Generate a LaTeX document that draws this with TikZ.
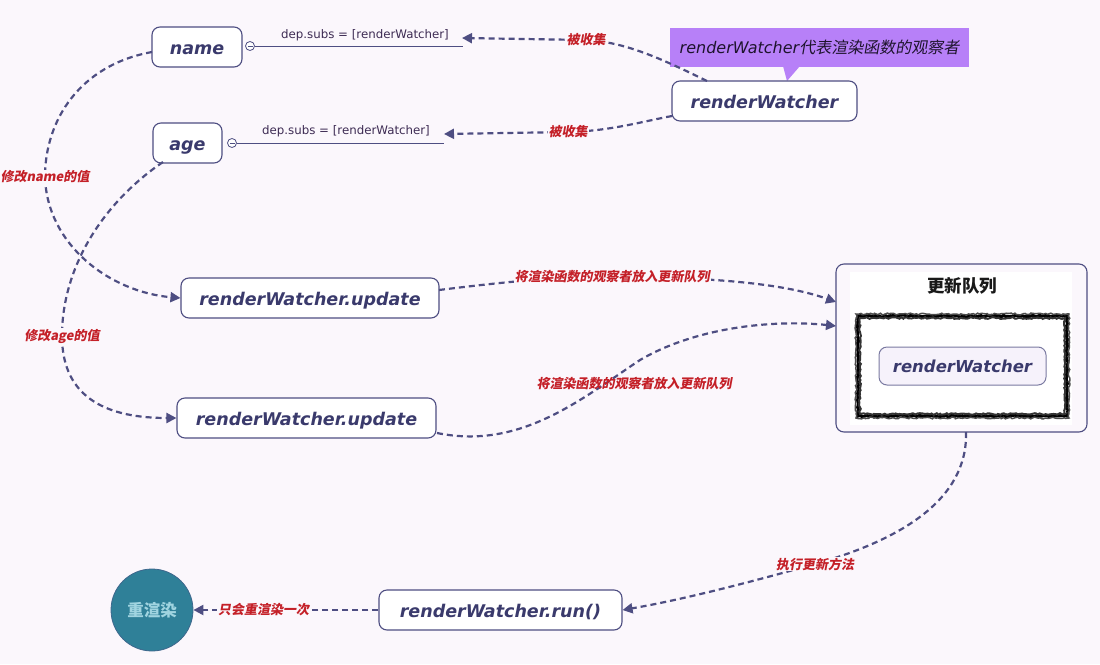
\documentclass[tikz,border=0pt]{standalone}
\usepackage{fontspec}
\setmainfont{DejaVu Sans}
\newfontfamily\cjk{Noto Sans CJK SC}
\newfontfamily\cjksl[FakeSlant=0.18]{Noto Sans CJK SC}
\usetikzlibrary{arrows.meta,decorations.pathmorphing}
\definecolor{bg}{RGB}{251,247,252}
\definecolor{ln}{RGB}{78,78,130}
\definecolor{tx}{RGB}{58,58,108}
\definecolor{deptx}{RGB}{62,44,84}
\definecolor{lbl}{RGB}{196,32,40}
\definecolor{callout}{RGB}{183,128,248}
\definecolor{circfill}{RGB}{47,128,152}
\definecolor{circtext}{RGB}{160,212,224}
\definecolor{innerfill}{RGB}{246,242,251}
\tikzset{
  box/.style={draw=ln, line width=1.1pt, rounded corners=8pt, fill=white, text=tx,
    font=\bfseries\itshape\fontsize{17.5}{21}\selectfont, minimum height=40pt, inner sep=0pt,
    text height=16pt, text depth=2pt},
  conn/.style={draw=ln, line width=2.2pt, dash pattern=on 6pt off 4pt,
    -{Triangle[length=10pt,width=10pt]}},
  lab/.style={fill=bg, text=lbl, inner sep=1pt, font=\cjksl\bfseries\fontsize{13}{15}\selectfont},
  dep/.style={text=deptx, font=\fontsize{11.8}{14}\selectfont},
  knob/.style={circle, draw=ln, fill=white, minimum size=9pt, inner sep=0pt, line width=0.8pt},
  sketch/.style={draw=black, decorate, decoration={random steps, segment length=2pt, amplitude=0.9pt}},
}
\begin{document}
\begin{tikzpicture}[x=1pt,y=-1pt]
\useasboundingbox (0,0) rectangle (1100,664);
\fill[bg] (0,0) rectangle (1100,664);

% callout
\fill[callout] (783,66) -- (800,66) -- (787,81) -- cycle;
\node[fill=callout, minimum width=299pt, minimum height=39pt, inner sep=0pt, text={rgb,255:red,30;green,20;blue,45},
  font=\fontsize{16}{20}\selectfont] (co) at (819.5,47.5) {\itshape renderWatcher\cjksl 代表渲染函数的观察者};

% main nodes
\node[box, minimum width=90pt] (name) at (197,47) {name};
\node[box, minimum width=69pt] (age) at (187.5,143) {age};
\node[box, minimum width=185pt] (rw) at (764.5,101) {renderWatcher};
\node[box, minimum width=258pt] (up1) at (310,298) {renderWatcher.update};
\node[box, minimum width=259pt] (up2) at (306.5,418) {renderWatcher.update};
\node[box, minimum width=243pt] (run) at (500.5,610) {renderWatcher.run()};
\node[circle, fill=circfill, draw=ln!50!circfill, line width=0.8pt, minimum size=82pt, inner sep=0pt, text=circtext,
  font=\cjk\bfseries\fontsize{16.5}{18}\selectfont] (re) at (152,610) {重渲染};

% queue
\node[draw=ln, line width=1.1pt, rounded corners=8pt, fill=bg, minimum width=251pt, minimum height=168pt, inner sep=0pt] (queue) at (961.5,348) {};
\fill[white] (850,272) rectangle (1072,425);
\node[text=black!90, font=\cjk\bfseries\fontsize{17.5}{20}\selectfont] (qt) at (962,286) {更新队列};
\draw[sketch, line width=3pt] (858,316) rectangle (1067,416);
\draw[sketch, line width=2pt, black!80] (860,318) rectangle (1065,414);
\draw[sketch, line width=1.5pt, black!70] (856,314) rectangle (1069,418);
\node[draw=ln!75, line width=1pt, rounded corners=8pt, fill=innerfill, minimum width=167pt, minimum height=38pt, inner sep=0pt,
  text height=15pt, text depth=2pt,
  text=tx, font=\bfseries\itshape\fontsize{16.5}{20}\selectfont] (qrw) at (962.5,366) {renderWatcher};

% dep lines
\node[knob] (k1) at (250,46) {};
\draw[ln, line width=0.6pt] (247.5,46) -- (252.5,46);
\coordinate (e1) at (463,46);
\draw[ln, line width=1pt] (k1) -- (e1);
\node[dep] (d1) at (365,35) {dep.subs = [renderWatcher]};

\node[knob] (k2) at (232,143) {};
\draw[ln, line width=0.6pt] (229.5,143) -- (234.5,143);
\coordinate (e2) at (444,143);
\draw[ln, line width=1pt] (k2) -- (e2);
\node[dep] (d2) at (346,131) {dep.subs = [renderWatcher]};

% connectors
\coordinate (s1) at (707,81);
\coordinate (t1) at (462,38);
\draw[conn] (s1) .. controls (660,58) and (625,42) .. (586,40) node[lab] {被收集} -- (t1);

\coordinate (s2) at (672,116);
\coordinate (t2) at (444,134);
\draw[conn] (s2) .. controls (640,122) and (610,131) .. (568,132) node[lab] {被收集} -- (t2);

\coordinate (sn) at (152,52);
\draw[conn] (sn) .. controls (80,65) and (45,120) .. (45,177) node[lab] {修改name的值}
  .. controls (47,245) and (110,292) .. (up1.west);

\coordinate (sa) at (163,162);
\draw[conn] (sa) .. controls (100,205) and (62,270) .. (62,336) node[lab] {修改age的值}
  .. controls (62,400) and (110,418) .. (up2.west);

\coordinate (s3) at (439,290);
\coordinate (q1) at (836,302);
\draw[conn] (s3) .. controls (520,280) and (560,277) .. (612,277) node[lab] {将渲染函数的观察者放入更新队列}
  .. controls (700,277) and (780,282) .. (q1);

\coordinate (s4) at (437,433);
\coordinate (q2) at (836,326);
\draw[conn] (s4) .. controls (520,450) and (580,400) .. (640,360)
  node[lab, fill=none, anchor=north, xshift=-6pt, yshift=-15pt] {将渲染函数的观察者放入更新队列}
  .. controls (700,325) and (780,320) .. (q2);

\coordinate (sq) at (966,432);
\draw[conn] (sq) .. controls (968,500) and (900,540) .. (815,564) node[lab] {执行更新方法}
  .. controls (740,585) and (680,600) .. (run.east);

\draw[conn] (run.west) -- node[lab, pos=0.62] {只会重渲染一次} (re.east);
\end{tikzpicture}
\end{document}
